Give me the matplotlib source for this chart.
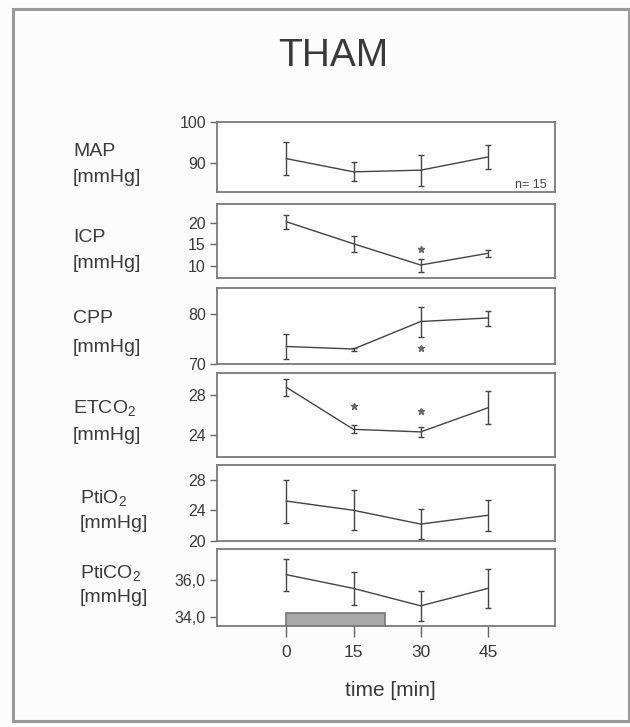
import matplotlib
matplotlib.use("Agg")
import matplotlib.pyplot as plt
from matplotlib.patches import Rectangle

plt.rcParams['font.family'] = ['Liberation Sans', 'DejaVu Sans']
plt.rcParams['mathtext.fontset'] = 'custom'
plt.rcParams['mathtext.rm'] = 'Liberation Sans'
plt.rcParams['mathtext.it'] = 'Liberation Sans:italic'

# ---- data ----
times = [0, 15, 30, 45]
xtick_labels = ["0", "15", "30", "45"]

map_mean = [91.1, 87.9, 88.3, 91.5]
map_err = [4.0, 2.3, 3.8, 2.9]

icp_mean = [20.2, 15.1, 10.2, 12.9]
icp_err = [1.6, 1.8, 1.5, 0.8]

cpp_mean = [73.5, 73.0, 78.5, 79.2]
cpp_err = [2.5, 0.3, 3.0, 1.5]

etco2_mean = [28.7, 24.6, 24.35, 26.7]
etco2_err = [0.8, 0.4, 0.5, 1.6]

ptio2_mean = [25.2, 24.0, 22.2, 23.35]
ptio2_err = [2.8, 2.6, 2.0, 2.0]

ptico2_mean = [36.3, 35.55, 34.6, 35.55]
ptico2_err = [0.87, 0.9, 0.8, 1.05]

icp_star_x, icp_star_y = [30], [14.0]
cpp_star_x, cpp_star_y = [30], [73.3]
etco2_star_x, etco2_star_y = [15, 30], [26.9, 26.4]

treatment_start, treatment_end = 0, 22
treatment_top = 34.2

panel_names = ["MAP", "ICP", "CPP", r"ETCO$_2$", r"PtiO$_2$", r"PtiCO$_2$"]
means = [map_mean, icp_mean, cpp_mean, etco2_mean, ptio2_mean, ptico2_mean]
errs = [map_err, icp_err, cpp_err, etco2_err, ptio2_err, ptico2_err]
yticks = [[90, 100], [10, 15, 20], [70, 80], [24, 28], [20, 24, 28], [34, 36]]
ytick_labels = [["90", "100"], ["10", "15", "20"], ["70", "80"], ["24", "28"],
                ["20", "24", "28"], ["34,0", "36,0"]]
ylims = [(83, 100), (7.2, 24.3), (70, 85.2), (21.9, 30.1), (20, 29.9), (33.5, 37.7)]
stars = [None, (icp_star_x, icp_star_y), (cpp_star_x, cpp_star_y),
         (etco2_star_x, etco2_star_y), None, None]

# ---- layout (pixels) ----
W, H = 630, 727
fig = plt.figure(figsize=(W / 100, H / 100), dpi=100, facecolor='#fcfcfc')

def fx(px):
    return px / W

def fy(py):
    return 1 - py / H

# outer frame
fig.patches.append(Rectangle((fx(13), fy(721)), fx(629) - fx(13), fy(9) - fy(721),
                             transform=fig.transFigure, fill=False,
                             edgecolor='#9a9a9a', linewidth=2.2))

boxes = [(122, 192), (204, 278), (288, 364), (373, 457), (465, 541), (549, 626)]
x_left, x_right = 217, 555
label_pos = [(73, 152, 178), (73, 238, 263), (73, 318, 347), (73, 408, 435),
             (80, 498, 523), (80, 573, 598)]

line_col = '#444444'
spine_col = '#7a7a7a'
text_col = '#3a3a3a'

axes = []
for i, (top, bot) in enumerate(boxes):
    ax = fig.add_axes([fx(x_left), fy(bot), fx(x_right) - fx(x_left), fy(top) - fy(bot)])
    ax.set_facecolor('#fefefe')
    ax.errorbar(times, means[i], yerr=errs[i], color=line_col, ecolor=line_col,
                linewidth=1.0, elinewidth=1.0, capsize=2.0, capthick=1.0)
    if stars[i] is not None:
        ax.plot(stars[i][0], stars[i][1], linestyle='none', marker='*',
                markersize=4.5, color='#666666')
    ax.set_xlim(-15.5, 60)
    ax.set_ylim(*ylims[i])
    ax.set_yticks(yticks[i])
    ax.set_yticklabels(ytick_labels[i])
    for s in ax.spines.values():
        s.set_color(spine_col)
        s.set_linewidth(1.3)
    ax.tick_params(axis='y', direction='out', length=5, width=1, colors='#666666',
                   labelcolor=text_col, labelsize=11.5, pad=3)
    if i < 5:
        ax.set_xticks([])
    else:
        ax.set_xticks(times)
        ax.set_xticklabels(xtick_labels)
        ax.tick_params(axis='x', direction='out', length=8, width=1, colors='#666666',
                       labelcolor=text_col, labelsize=12.5, pad=6)
        ax.bar(treatment_start, treatment_top - ylims[i][0], bottom=ylims[i][0],
               width=treatment_end - treatment_start, align='edge',
               color='#a8a8a8', edgecolor='#777777', linewidth=1.2, zorder=1)
    axes.append(ax)
    lx, ly1, ly2 = label_pos[i]
    fig.text(fx(lx), fy(ly1), panel_names[i], ha='left', va='center',
             fontsize=14, color=text_col)
    fig.text(fx(lx), fy(ly2), "[mmHg]", ha='left', va='center',
             fontsize=14, color=text_col)

axes[0].text(0.975, 0.1, "n= 15", transform=axes[0].transAxes, ha='right',
             va='center', fontsize=9, color='#444444')

fig.text(fx(333), fy(56), "THAM", ha='center', va='center', fontsize=28,
         color=text_col)
fig.text(fx(390), fy(690), "time [min]", ha='center', va='center', fontsize=15,
         color=text_col)

fig.savefig("out.png", dpi=100, facecolor=fig.get_facecolor())
